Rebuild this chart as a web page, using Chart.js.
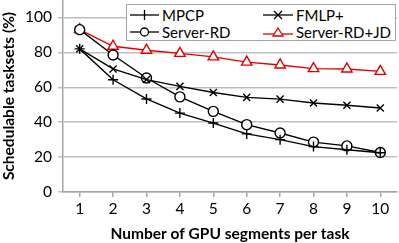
<!DOCTYPE html>
<html><head><meta charset="utf-8">
<script src="https://cdn.jsdelivr.net/npm/chart.js@4/dist/chart.umd.min.js"></script>
<style>
html,body{margin:0;padding:0;background:#fff;}
#wrap{position:relative;width:399px;height:243px;}
#legend{position:absolute;left:126px;top:4px;width:268px;height:35px;border:1.5px solid #a6a6a6;background:#fff;font-family:Lato,"Open Sans",sans-serif;font-size:15px;color:#000;}
.li{position:absolute;display:flex;align-items:center;height:18px;}
.li svg{margin-right:3px;}
</style></head>
<body><div id="wrap"><canvas id="c" width="399" height="243"></canvas>
<div id="legend">
<div class="li" style="left:3px;top:1px"><svg width="29" height="14"><line x1="0" y1="7" x2="29" y2="7" stroke="#000" stroke-width="1.3"/><line x1="14.5" y1="2" x2="14.5" y2="12" stroke="#000" stroke-width="1.3"/></svg><span>MPCP</span></div>
<div class="li" style="left:3px;top:18px"><svg width="29" height="14"><line x1="0" y1="7" x2="29" y2="7" stroke="#000" stroke-width="1.3"/><circle cx="14.5" cy="7" r="4" fill="#fff" stroke="#000" stroke-width="1.3"/></svg><span>Server-RD</span></div>
<div class="li" style="left:136px;top:1px"><svg width="30" height="14"><line x1="0" y1="7" x2="30" y2="7" stroke="#000" stroke-width="1.3"/><line x1="11" y1="3" x2="19" y2="11" stroke="#000" stroke-width="1.3"/><line x1="11" y1="11" x2="19" y2="3" stroke="#000" stroke-width="1.3"/></svg><span>FMLP+</span></div>
<div class="li" style="left:136px;top:18px"><svg width="30" height="14"><line x1="0" y1="9" x2="30" y2="9" stroke="#e00000" stroke-width="1.3"/><polygon points="15,3 20,11 10,11" fill="#fff" stroke="#e00000" stroke-width="1.3"/></svg><span>Server-RD+JD</span></div>
</div></div>
<script>
const categories = ['1','2','3','4','5','6','7','8','9','10'];
const mpcp     = [82, 64.3, 53.3, 45.2, 39.5, 33.3, 30, 26, 24.2, 22.5];
const fmlp     = [82, 70.5, 64.4, 60.5, 57, 54.2, 53.2, 51, 49.7, 48.1];
const serverRD = [93, 78.5, 65.3, 54.5, 46.2, 38.6, 33.8, 28.6, 26.4, 22.6];
const serverJD = [93, 83.5, 81.2, 79.4, 77.4, 74.4, 72.8, 70.7, 70.5, 69.1];
const yTicks   = [0, 20, 40, 60, 80, 100];

const RED = '#e00000';
const font = {family: 'Lato, "Open Sans", sans-serif', size: 15.5};
const ds = (label, data, style, color, radius) => ({
  label, data, borderColor: color, backgroundColor: '#fff',
  pointStyle: style, pointRadius: radius, pointBorderColor: color,
  pointBackgroundColor: '#fff', pointBorderWidth: 1.4, borderWidth: 1.4, tension: 0
});
new Chart(document.getElementById('c'), {
  type: 'line',
  data: {labels: categories, datasets: [
    ds('MPCP', mpcp, 'cross', '#000', 5),
    ds('FMLP+', fmlp, 'crossRot', '#000', 5),
    ds('Server-RD', serverRD, 'circle', '#000', 5),
    ds('Server-RD+JD', serverJD, 'triangle', RED, 6)
  ]},
  options: {
    responsive: false, animation: false, devicePixelRatio: 1,
    layout: {autoPadding: false, padding: {top: 0, right: 2, left: 0, bottom: 0}},
    plugins: {legend: {display: false}, tooltip: {enabled: false}},
    scales: {
      x: {
        offset: true,
        grid: {drawOnChartArea: false, offset: false, color: '#a6a6a6', lineWidth: 1.5, tickLength: 5},
        border: {color: '#a6a6a6', width: 1.5},
        ticks: {font, color: '#000', padding: 3, maxRotation: 0},
        title: {display: true, text: 'Number of GPU segments per task', font: {...font, weight: 'bold'}, color: '#000', padding: {top: 3, bottom: 0}},
        afterFit: s => { s.height = 51; s.paddingLeft = 0; s.paddingRight = 0; }
      },
      y: {
        min: 0, max: 110,
        afterBuildTicks: s => { s.ticks = yTicks.map(v => ({value: v})); },
        grid: {color: '#bfbfbf', lineWidth: 1.5, tickLength: 5},
        border: {color: '#a6a6a6', width: 1.5},
        ticks: {font, color: '#000', padding: 6},
        title: {display: true, text: 'Schedulable tasksets (%)', font: {...font, weight: 'bold'}, color: '#000', padding: {top: 0, bottom: 2}},
        afterFit: s => { s.width = 63; s.paddingTop = 0; s.paddingBottom = 0; }
      }
    }
  }
});
</script></body></html>
